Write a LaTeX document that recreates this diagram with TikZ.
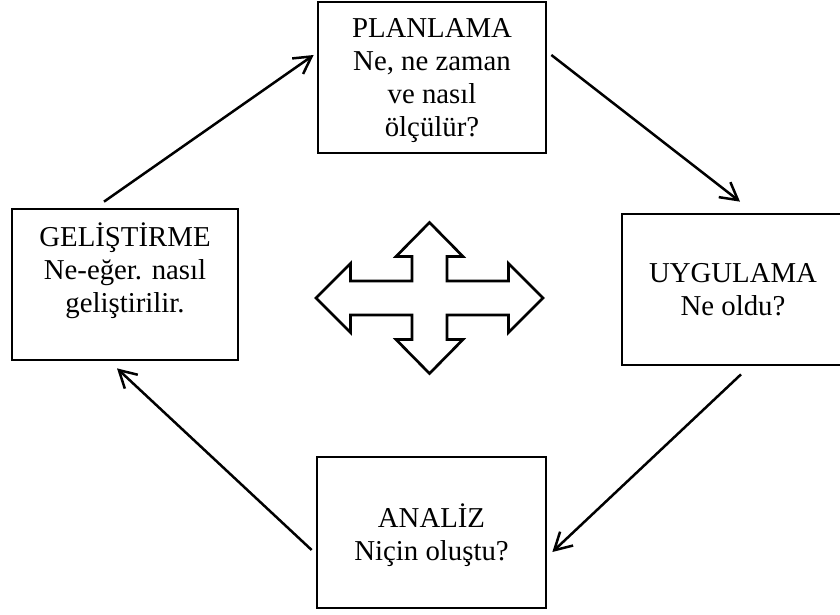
\documentclass[tikz,border=0pt]{standalone}
\usepackage{fontspec}
\setmainfont{Liberation Serif}
\usetikzlibrary{arrows.meta,calc}
\tikzset{
  box/.style={draw, line width=2.7pt, rectangle, inner sep=0pt, align=center,
    text depth=0pt, font=\fontsize{28.8}{33}\selectfont},
  conn/.style={line width=2.5pt, -{Straight Barb[length=17pt,width=19pt]}},
  cross/.style={draw, line width=2.7pt, line join=miter}
}
\begin{document}
\begin{tikzpicture}[x=1pt,y=-1pt]
\useasboundingbox (0,0) rectangle (840,615);
\node[box, minimum width=228pt, minimum height=151pt] (plan) at (432,77.5)
  {PLANLAMA\\Ne, ne zaman\\ve nasıl\\ölçülür?};
\node[box, minimum width=222pt, minimum height=151pt] (uyg) at (733,289.5)
  {UYGULAMA\\Ne oldu?};
\node[box, minimum width=229pt, minimum height=151pt] (ana) at (431.5,532.5)
  {ANALİZ\\Niçin oluştu?};
\node[box, minimum width=226pt, minimum height=151pt] (gel) at (125,284.5)
  {GELİŞTİRME\\Ne-eğer. nasıl\\geliştirilir.\\\mbox{}};
\draw[conn] ($(gel.north)+(-21,-6)$) -- ($(plan.west)+(-3,-22.5)$);
\draw[conn] ($(plan.east)+(4,-22.5)$) -- ($(uyg.north)+(7,-11)$);
\draw[conn] ($(uyg.south)+(8,8)$) -- ($(ana.east)+(5,19.5)$);
\draw[conn] ($(ana.west)+(-4,17.5)$) -- ($(gel.south)+(-8,7)$);
\coordinate (c) at (429.5,298);
\begin{scope}[shift={(c)}]
\draw[cross] (0,-75.5) -- (33.5,-41.5) -- (17.5,-41.5) -- (17.5,-17) -- (79,-17)
  -- (79,-34.5) -- (113.5,0) -- (79,34.5) -- (79,17) -- (17.5,17) -- (17.5,41.5)
  -- (33.5,41.5) -- (0,75.5) -- (-33.5,41.5) -- (-17.5,41.5) -- (-17.5,17)
  -- (-79,17) -- (-79,34.5) -- (-113.5,0) -- (-79,-34.5) -- (-79,-17)
  -- (-17.5,-17) -- (-17.5,-41.5) -- (-33.5,-41.5) -- cycle;
\end{scope}
\end{tikzpicture}
\end{document}
